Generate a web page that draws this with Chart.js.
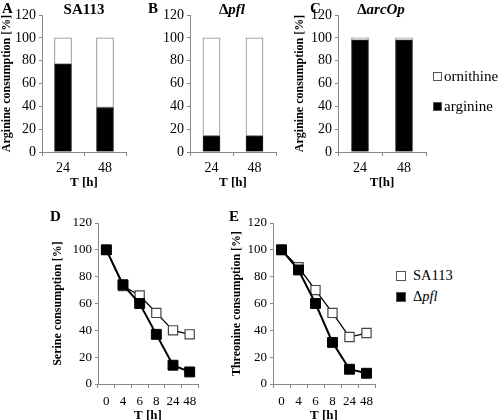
<!DOCTYPE html>
<html>
<head>
<meta charset="utf-8">
<script src="https://cdn.jsdelivr.net/npm/chart.js@4.4.0/dist/chart.umd.min.js"></script>
<style>
  body { margin: 0; width: 500px; height: 420px; overflow: hidden; background: #fff; position: relative; font-family: "Liberation Serif", "Times New Roman", "DejaVu Serif", serif; color: #000; }
  .panel { position: absolute; }
  .txt { position: absolute; white-space: nowrap; line-height: 1; }
  .letter { font-weight: bold; font-size: 15px; }
  .title { font-weight: bold; font-size: 15px; transform: translateX(-50%); }
  .lg { position: absolute; white-space: nowrap; line-height: 1; }
  .box { position: absolute; border: 1px solid #555; box-sizing: border-box; }
</style>
</head>
<body>
<div class="panel" style="left:0;top:0"><canvas id="chartA" width="136" height="195"></canvas></div>
<div class="panel" style="left:149px;top:0"><canvas id="chartB" width="137" height="195"></canvas></div>
<div class="panel" style="left:293px;top:0"><canvas id="chartC" width="143" height="195"></canvas></div>
<div class="panel" style="left:51px;top:200px"><canvas id="chartD" width="157" height="225"></canvas></div>
<div class="panel" style="left:230px;top:200px"><canvas id="chartE" width="155" height="225"></canvas></div>

<div class="txt letter" style="left:2px;top:1px">A</div>
<div class="txt letter" style="left:148px;top:1px">B</div>
<div class="txt letter" style="left:310px;top:1px">C</div>
<div class="txt letter" style="left:50px;top:209px">D</div>
<div class="txt letter" style="left:229px;top:209px">E</div>

<div class="txt title" style="left:84px;top:2px">SA113</div>
<div class="txt title" style="left:232px;top:2px">Δ<i>pfl</i></div>
<div class="txt title" style="left:381px;top:2px">Δ<i>arcOp</i></div>

<div class="box" style="left:433px;top:72px;width:9px;height:9px;background:#fff"></div>
<div class="lg" style="left:444px;top:69px;font-size:15px">ornithine</div>
<div class="box" style="left:433px;top:102px;width:9px;height:9px;background:#000"></div>
<div class="lg" style="left:444px;top:99px;font-size:15px">arginine</div>

<div class="box" style="left:396px;top:271px;width:10px;height:10px;background:#fff"></div>
<div class="lg" style="left:413px;top:268px;font-size:14.5px">SA113</div>
<div class="box" style="left:396px;top:292px;width:10px;height:10px;background:#000"></div>
<div class="lg" style="left:413px;top:289px;font-size:14.5px">Δ<i>pfl</i></div>

<script>
// arginine / ornithine share of consumption [%]
const barTimes = ['24', '48'];
const argA = [77, 39];
const ornA = [23, 61];
const argB = [14, 14];
const ornB = [86, 86];
const argC = [98, 98];
const ornC = [2, 2];

// serine / threonine consumption [%]
const lineTimes = ['0', '4', '6', '8', '24', '48'];
const serSA113 = [100, 73, 66, 53, 40, 37];
const serPfl = [100, 74, 60, 37, 14, 9];
const thrSA113 = [100, 87, 70, 53, 35, 38];
const thrPfl = [100, 85, 60, 31, 11, 8];

const serif = "'Liberation Serif', 'Times New Roman', 'DejaVu Serif', serif";
const axisGray = '#888';

function yScale(width, title, fs) {
  return {
    min: 0, max: 120,
    ticks: { stepSize: 20, color: '#000', padding: 3, font: { family: serif, size: fs } },
    grid: { drawOnChartArea: false, tickLength: 3, color: axisGray },
    border: { color: axisGray },
    title: { display: !!title, text: title, color: '#000', padding: 0, font: { family: serif, size: 12, weight: 'bold' } },
    afterFit: s => { s.width = width; }
  };
}

function xScale(height, title, pad, tpad, fs) {
  return {
    grid: { drawOnChartArea: false, tickLength: 4, color: axisGray, offset: true },
    border: { color: axisGray },
    ticks: { color: '#000', padding: pad, maxRotation: 0, minRotation: 0, autoSkip: false, font: { family: serif, size: fs } },
    title: { display: true, text: title, color: '#000', padding: { top: 0, bottom: tpad }, font: { family: serif, size: 13, weight: 'bold' } },
    afterFit: s => { s.height = height; }
  };
}

function barChart(id, arg, orn, yw, ytitle, xtitle) {
  const x = xScale(43, xtitle, 4, 5, 14);
  x.stacked = true;
  const y = yScale(yw, ytitle, 14);
  y.stacked = true;
  return new Chart(document.getElementById(id), {
    type: 'bar',
    data: {
      labels: barTimes,
      datasets: [
        { label: 'arginine', data: arg, backgroundColor: '#000', borderColor: '#222', borderWidth: 1, barThickness: 17 },
        { label: 'ornithine', data: orn, backgroundColor: '#fff', borderColor: axisGray, borderWidth: 1, borderSkipped: false, barThickness: 17 }
      ]
    },
    options: {
      responsive: false,
      animation: false,
      layout: { padding: { top: 15, right: 10, left: 0, bottom: 0 } },
      plugins: { legend: { display: false }, tooltip: { enabled: false } },
      scales: { x: x, y: y }
    }
  });
}

function lineChart(id, sa, pfl, yw, ytitle) {
  return new Chart(document.getElementById(id), {
    type: 'line',
    data: {
      labels: lineTimes,
      datasets: [
        { label: 'Δpfl', data: pfl, borderColor: '#000', borderWidth: 2, pointStyle: 'rect',
          pointRadius: 7, pointBackgroundColor: '#000', pointBorderColor: '#000', pointBorderWidth: 1 },
        { label: 'SA113', data: sa, borderColor: '#000', borderWidth: 1.3, pointStyle: 'rect',
          pointRadius: 6.5, pointBackgroundColor: '#fff', pointBorderColor: '#444', pointBorderWidth: 1.2 }
      ]
    },
    options: {
      responsive: false,
      animation: false,
      layout: { padding: { top: 23, right: 10, left: 0, bottom: 0 } },
      plugins: { legend: { display: false }, tooltip: { enabled: false } },
      scales: {
        x: Object.assign(xScale(41, 'T [h]', 6, 2, 13), { offset: true }),
        y: yScale(yw, ytitle, 13)
      }
    }
  });
}

barChart('chartA', argA, ornA, 42, 'Arginine consumption [%]', 'T [h]');
barChart('chartB', argB, ornB, 41, '', 'T [h]');
barChart('chartC', argC, ornC, 45, 'Arginine consumption [%]', 'T[h]');
lineChart('chartD', serSA113, serPfl, 47, 'Serine consumption [%]');
lineChart('chartE', thrSA113, thrPfl, 43, 'Threonine consumption [%]');
</script>
</body>
</html>
